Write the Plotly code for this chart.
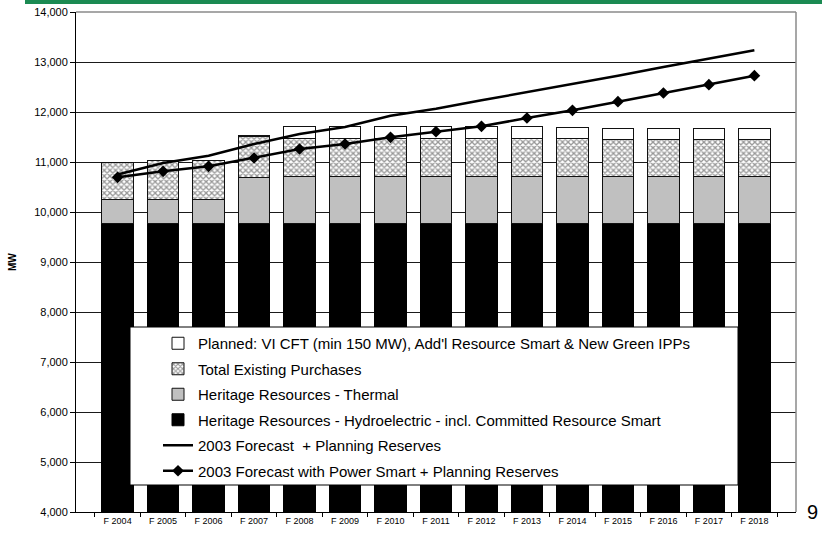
import plotly.graph_objects as go

categories = ["F 2004", "F 2005", "F 2006", "F 2007", "F 2008", "F 2009", "F 2010", "F 2011",
              "F 2012", "F 2013", "F 2014", "F 2015", "F 2016", "F 2017", "F 2018"]

hydro = [9765, 9765, 9765, 9765, 9780, 9780, 9780, 9780, 9780, 9780, 9780, 9780, 9780, 9780, 9780]
thermal = [495, 495, 495, 935, 940, 940, 940, 940, 940, 940, 940, 940, 940, 940, 940]
purchases = [730, 770, 780, 810, 760, 760, 760, 760, 760, 760, 750, 740, 740, 740, 740]
planned = [0, 0, 0, 30, 235, 235, 235, 235, 235, 235, 230, 215, 215, 215, 215]

forecast = [10750, 10980, 11126, 11360, 11560, 11700, 11926, 12066, 12233, 12393,
            12560, 12726, 12900, 13066, 13233]
forecast_ps = [10693, 10813, 10913, 11080, 11260, 11360, 11493, 11606, 11713, 11880,
               12033, 12206, 12380, 12546, 12726]

y_ticks = [4000, 5000, 6000, 7000, 8000, 9000, 10000, 11000, 12000, 13000, 14000]

names = {
    "planned": "Planned: VI CFT (min 150 MW), Add'l Resource Smart & New Green IPPs",
    "purch": "Total Existing Purchases",
    "thermal": "Heritage Resources - Thermal",
    "hydro": "Heritage Resources - Hydroelectric - incl. Committed Resource Smart",
    "fc": "2003 Forecast  + Planning Reserves",
    "fcps": "2003 Forecast with Power Smart + Planning Reserves",
}

FONT = "Liberation Sans, Arial, sans-serif"

fig = go.Figure()
fig.add_trace(go.Bar(x=categories, y=hydro, name=names["hydro"], legendrank=4, legendgroup="d",
                     marker=dict(color="#000000", line=dict(color="#000000", width=1))))
fig.add_trace(go.Bar(x=categories, y=thermal, name=names["thermal"], legendrank=3, legendgroup="c",
                     marker=dict(color="#c0c0c0", line=dict(color="#111111", width=1))))
fig.add_trace(go.Bar(x=categories, y=purchases, name=names["purch"], legendrank=2, legendgroup="b",
                     marker=dict(color="#ffffff", line=dict(color="#111111", width=1),
                                 pattern=dict(shape="x", size=4, solidity=0.55,
                                              fgcolor="#303030", bgcolor="#ffffff"))))
fig.add_trace(go.Bar(x=categories, y=planned, name=names["planned"], legendrank=1, legendgroup="a",
                     marker=dict(color="#ffffff", line=dict(color="#111111", width=1))))
fig.add_trace(go.Scatter(x=categories, y=forecast, name=names["fc"], mode="lines", legendrank=5,
                         legendgroup="e", line=dict(color="#000000", width=2.5)))
fig.add_trace(go.Scatter(x=categories, y=forecast_ps, name=names["fcps"], mode="lines+markers",
                         legendrank=6, legendgroup="f",
                         line=dict(color="#000000", width=2.5),
                         marker=dict(symbol="diamond", size=9, color="#000000")))

L, R, T, B = 76, 26, 12, 21
W, H = 822, 533
pw, ph = W - L - R, H - T - B


def px_x(px):
    return (px - L) / pw


def px_y(py):
    return (H - B - py) / ph


fig.update_layout(
    width=W, height=H,
    margin=dict(l=L, r=R, t=T, b=B, autoexpand=False),
    barmode="stack",
    bargap=0.31,
    paper_bgcolor="#ffffff",
    plot_bgcolor="#ffffff",
    font=dict(family=FONT, color="#000000"),
    showlegend=True,
    legend=dict(
        x=px_x(158), y=px_y(327), xanchor="left", yanchor="top",
        bgcolor="rgba(0,0,0,0)", borderwidth=0,
        font=dict(size=15, family=FONT),
        tracegroupgap=3,
        traceorder="grouped",
    ),
    xaxis=dict(
        type="category", showgrid=False, showline=True, linecolor="#000000", linewidth=1,
        ticks="outside", tickson="boundaries", ticklen=4, tickcolor="#000000",
        tickfont=dict(size=9, family=FONT), fixedrange=True,
    ),
    yaxis=dict(
        range=[4000, 14000], tickvals=y_ticks, tickformat=",d",
        showgrid=True, gridcolor="#1a1a1a", gridwidth=1,
        showline=True, linecolor="#000000", linewidth=1,
        ticks="outside", ticklen=5, tickcolor="#000000",
        tickfont=dict(size=11, family=FONT), zeroline=False,
    ),
    shapes=[
        dict(type="rect", xref="paper", yref="paper", x0=px_x(25), x1=px_x(822),
             y0=px_y(4), y1=px_y(0), fillcolor="#1b8a52", line=dict(width=0), layer="above"),
        dict(type="line", xref="paper", yref="paper", x0=0, x1=1, y0=1, y1=1,
             line=dict(color="#8a8a8a", width=1.5), layer="above"),
        dict(type="line", xref="paper", yref="paper", x0=1, x1=1, y0=0, y1=1,
             line=dict(color="#8a8a8a", width=1.5), layer="above"),
        dict(type="rect", xref="paper", yref="paper", x0=px_x(130), x1=px_x(738),
             y0=px_y(485), y1=px_y(327), fillcolor="#ffffff",
             line=dict(color="#000000", width=1), layer="above"),
    ],
    annotations=[
        dict(text="<b>MW</b>", textangle=-90, xref="paper", yref="paper",
             x=px_x(12), y=px_y(262), xanchor="center", yanchor="middle",
             showarrow=False, font=dict(size=10, family=FONT)),
        dict(text="9", xref="paper", yref="paper", x=px_x(812), y=px_y(512),
             xanchor="center", yanchor="middle",
             showarrow=False, font=dict(size=20, family=FONT)),
    ],
)

fig.write_html("out.html",
               config={"displayModeBar": False},
               post_script="document.body.style.margin='0';document.body.style.overflow='hidden';")
